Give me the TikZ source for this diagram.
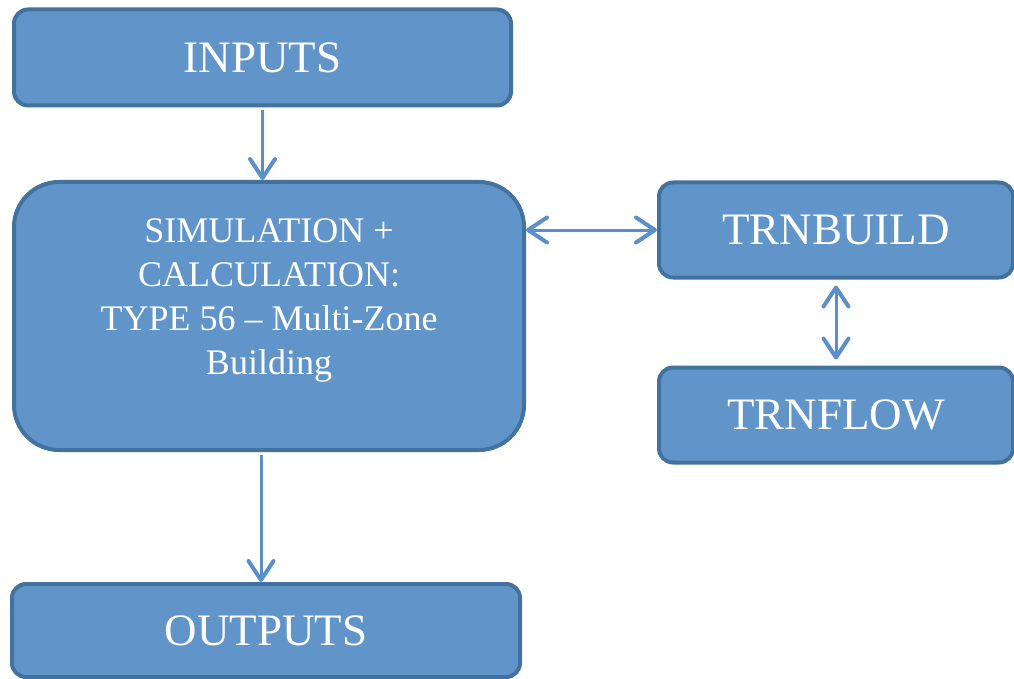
\documentclass[tikz,border=0pt]{standalone}
\usepackage{fontspec}
\setmainfont{Liberation Serif}
\usepackage{tikz}
\usetikzlibrary{arrows.meta,calc}
\definecolor{boxfill}{HTML}{6195C9}
\definecolor{boxedge}{HTML}{44729F}
\definecolor{linkblue}{HTML}{5B8FCB}

\begin{document}
\begin{tikzpicture}[x=1pt,y=-1pt,
  block/.style={draw=boxedge,fill=boxfill,line width=4pt,rounded corners=14pt,
               text=white,font=\fontsize{45}{54}\selectfont},
  link/.style={draw=linkblue,line width=3pt},
  >={Straight Barb[round,length=19pt,width=25pt,line width=4pt]},
]
  \useasboundingbox (0,0) rectangle (1014,679);

  \node[block,minimum width=497pt,minimum height=96pt] (inputs)  at (262.5,57.5) {INPUTS};
  \node[block,minimum width=510pt,minimum height=268pt,rounded corners=45pt,
        align=center,font=\fontsize{36}{44}\selectfont] (sim) at (269,316)
        {SIMULATION +\\CALCULATION:\\TYPE 56 -- Multi-Zone\\Building\\[-6pt]\mbox{}};
  \node[block,minimum width=354pt,minimum height=95pt] (build)   at (836,230)   {TRNBUILD};
  \node[block,minimum width=354pt,minimum height=95pt] (flow)    at (836,415)   {TRNFLOW};
  \node[block,minimum width=508pt,minimum height=93pt] (outputs) at (266,630.5) {OUTPUTS};

  \coordinate (simout) at ($(sim.south)+(-8,0)$);

  \draw[link,->,shorten <=3pt] (inputs.south) -- (inputs.south |- sim.north);
  \draw[link,->,shorten <=3pt] (simout) -- (simout |- outputs.north);
  \draw[link,<->] (sim.east |- build.west) -- (build.west);
  \draw[link,<->,shorten <=6pt,shorten >=6pt] (build.south) -- (flow.north);
\end{tikzpicture}
\end{document}
